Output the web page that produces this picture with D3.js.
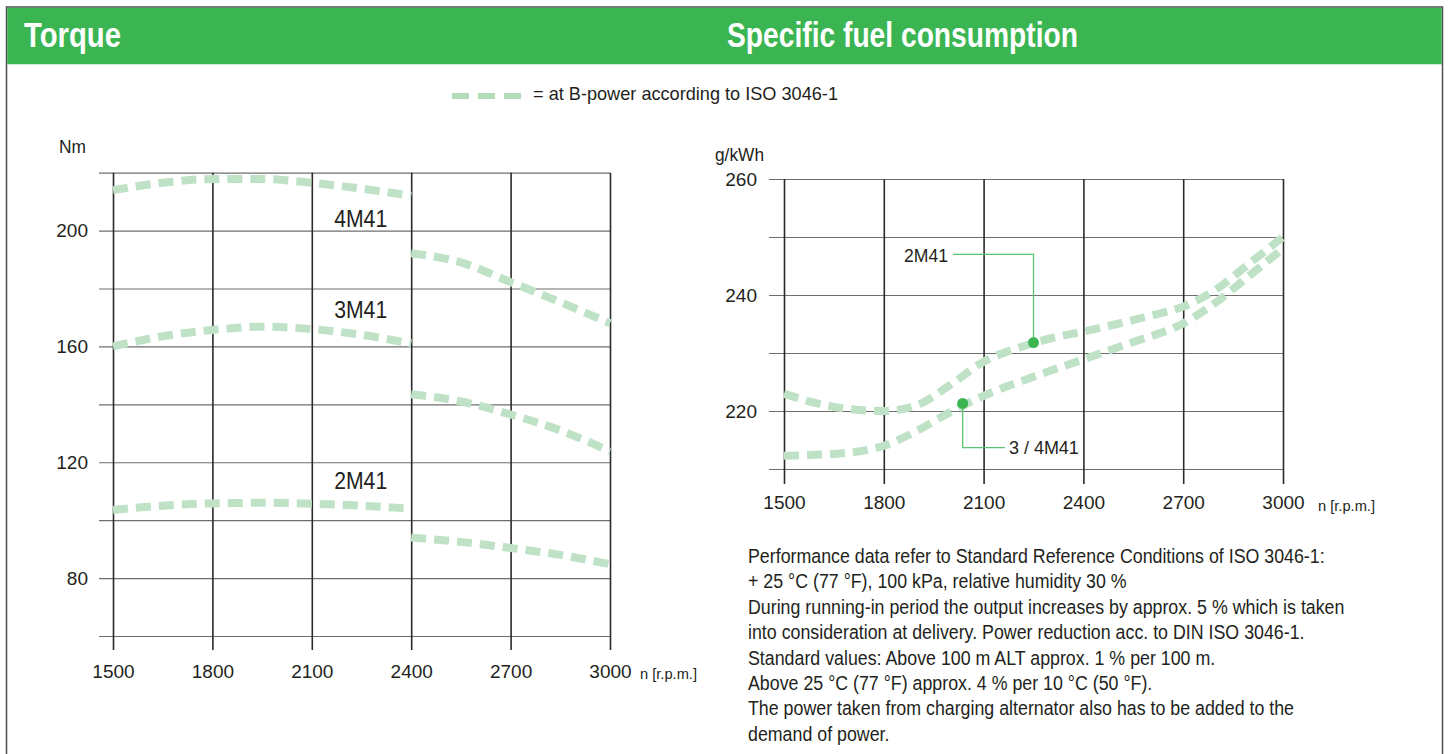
<!DOCTYPE html>
<html>
<head>
<meta charset="utf-8">
<script src="https://cdn.jsdelivr.net/npm/d3@7"></script>
<style>
    body { margin: 0; background: #fff; }
</style>
</head>
<body>
<svg id="chart"></svg>
<script>
// ---- data ----
const rpmTicks = [1500, 1800, 2100, 2400, 2700, 3000];
const torqueGrid = [60, 80, 100, 120, 140, 160, 180, 200, 220];
const torqueLabels = [80, 120, 160, 200];
const fuelGrid = [210, 220, 230, 240, 250, 260];
const fuelLabels = [220, 240, 260];

// torque [rpm, Nm], each engine drawn in two pieces (break at 2400)
const torque4M41Low = [[1500, 214], [1650, 216.5], [1800, 217.8], [1950, 217.8], [2100, 216.5], [2250, 214.5], [2400, 212]];
const torque4M41High = [[2400, 192.2], [2550, 189], [2700, 182.2], [2850, 175.3], [3000, 168]];
const torque3M41Low = [[1500, 160], [1650, 163.5], [1800, 165.7], [1950, 166.8], [2100, 166], [2250, 164], [2400, 161]];
const torque3M41High = [[2400, 143.5], [2550, 141], [2700, 136.5], [2850, 131], [3000, 123.8]];
const torque2M41Low = [[1500, 103.5], [1650, 105], [1800, 105.8], [1950, 106], [2100, 105.7], [2250, 105], [2400, 104]];
const torque2M41High = [[2400, 94], [2550, 92.5], [2700, 90.4], [2850, 88], [3000, 84.8]];
const torqueNames = ['4M41', '3M41', '2M41'];
const torqueNameAt = [201.1, 169.7, 110.7];

// specific fuel consumption [rpm, g/kWh]
const fuel2M41 = [[1500, 223], [1600, 221.3], [1700, 220.3], [1800, 220], [1900, 221], [2000, 224.5], [2100, 228.5],
    [2200, 230.8], [2300, 232.5], [2400, 233.7], [2500, 235], [2600, 236.4], [2700, 238], [2800, 241], [2900, 245.5], [3000, 250]];
const fuel34M41 = [[1500, 212.3], [1650, 212.6], [1800, 214], [1900, 216.6], [2000, 219.8], [2100, 222.6], [2250, 225.9],
    [2400, 228.9], [2550, 231.9], [2700, 235.1], [2800, 238.8], [2900, 243.4], [3000, 248]];
const fuel2M41Marker = [2250, 231.8];
const fuel34M41Marker = [2037, 221.3];

const noteLines = [
    'Performance data refer to Standard Reference Conditions of ISO 3046-1:',
    '+ 25 °C (77 °F), 100 kPa, relative humidity 30 %',
    'During running-in period the output increases by approx. 5 % which is taken',
    'into consideration at delivery. Power reduction acc. to DIN ISO 3046-1.',
    'Standard values: Above 100 m ALT approx. 1 % per 100 m.',
    'Above 25 °C (77 °F) approx. 4 % per 10 °C (50 °F).',
    'The power taken from charging alternator also has to be added to the',
    'demand of power.'
];

// ---- drawing ----
const FONT = '"Liberation Sans", Arial, sans-serif';
const GREEN = '#3ab552';
const CURVE = '#bfe2c7';
const TEXT = '#231f20';

const svg = d3.select('#chart')
    .attr('width', 1448)
    .attr('height', 754)
    .attr('font-family', FONT)
    .attr('fill', TEXT);

// frame and header band
svg.append('rect')
    .attr('x', 6.5).attr('y', 7).attr('width', 1436).attr('height', 780)
    .attr('fill', 'none').attr('stroke', '#4d4d4d').attr('stroke-width', 1.5);
svg.append('rect')
    .attr('x', 7.25).attr('y', 7.75).attr('width', 1434.5).attr('height', 56.5)
    .attr('fill', GREEN);

svg.append('text')
    .attr('x', 24).attr('y', 47)
    .attr('font-size', 35).attr('font-weight', 'bold').attr('fill', '#fff')
    .attr('textLength', 97).attr('lengthAdjust', 'spacingAndGlyphs')
    .text('Torque');
svg.append('text')
    .attr('x', 727).attr('y', 47)
    .attr('font-size', 35).attr('font-weight', 'bold').attr('fill', '#fff')
    .attr('textLength', 351).attr('lengthAdjust', 'spacingAndGlyphs')
    .text('Specific fuel consumption');

// legend
svg.append('line')
    .attr('x1', 452).attr('x2', 521).attr('y1', 96).attr('y2', 96)
    .attr('stroke', '#b3ddb9').attr('stroke-width', 6).attr('stroke-dasharray', '17,9');
svg.append('text')
    .attr('x', 533).attr('y', 100).attr('font-size', 19)
    .attr('textLength', 305).attr('lengthAdjust', 'spacingAndGlyphs')
    .text('= at B-power according to ISO 3046-1');

function styleAxis(g, fontSize, lineColor, lineWidth) {
    g.attr('font-family', FONT).attr('font-size', fontSize);
    g.select('.domain').remove();
    g.selectAll('.tick line').attr('stroke', lineColor).attr('stroke-width', lineWidth);
    g.selectAll('.tick text').attr('fill', TEXT);
}

const line = (x, y) => d3.line()
    .x(d => x(d[0]))
    .y(d => y(d[1]))
    .curve(d3.curveMonotoneX);

// ---------- torque chart ----------
const tx = d3.scaleLinear().domain([1500, 3000]).range([113, 610]);
const ty = d3.scaleLinear().domain([60, 220]).range([636, 172.7]);

svg.append('g')
    .attr('transform', 'translate(99,0)')
    .call(d3.axisLeft(ty).tickValues(torqueGrid).tickSize(-(610 - 99)).tickPadding(11)
        .tickFormat(d => torqueLabels.includes(d) ? d : ''))
    .call(g => styleAxis(g, 19, '#6e6e6e', 1.2));

svg.append('g')
    .attr('transform', 'translate(0,650)')
    .call(d3.axisBottom(tx).tickValues(rpmTicks).tickSize(-(650 - 172.7)).tickPadding(15).tickFormat(d => d))
    .call(g => styleAxis(g, 19, '#2b2b2b', 1.6));

svg.append('text').attr('x', 59).attr('y', 153).attr('font-size', 19)
    .attr('textLength', 27).attr('lengthAdjust', 'spacingAndGlyphs').text('Nm');
svg.append('text').attr('x', 640).attr('y', 679).attr('font-size', 15)
    .attr('textLength', 57).attr('lengthAdjust', 'spacingAndGlyphs').text('n [r.p.m.]');

const torqueLine = line(tx, ty);
const torquePieces = [torque4M41Low, torque4M41High, torque3M41Low, torque3M41High, torque2M41Low, torque2M41High];
svg.append('g').selectAll('path')
    .data(torquePieces)
    .enter()
    .append('path')
    .attr('d', torqueLine)
    .attr('fill', 'none')
    .attr('stroke', CURVE)
    .attr('stroke-width', 8)
    .attr('stroke-dasharray', '15,8');

svg.append('g').selectAll('text')
    .data(torqueNames)
    .enter()
    .append('text')
    .attr('x', tx(2400) - 24)
    .attr('y', (d, i) => ty(torqueNameAt[i]))
    .attr('text-anchor', 'end')
    .attr('font-size', 23)
    .attr('textLength', 53).attr('lengthAdjust', 'spacingAndGlyphs')
    .text(d => d);

// ---------- fuel chart ----------
const fx = d3.scaleLinear().domain([1500, 3000]).range([784, 1283]);
const fy = d3.scaleLinear().domain([210, 260]).range([469, 179]);

svg.append('g')
    .attr('transform', 'translate(769,0)')
    .call(d3.axisLeft(fy).tickValues(fuelGrid).tickSize(-(1283 - 769)).tickPadding(12)
        .tickFormat(d => fuelLabels.includes(d) ? d : ''))
    .call(g => styleAxis(g, 19, '#6e6e6e', 1.2));

svg.append('g')
    .attr('transform', 'translate(0,484)')
    .call(d3.axisBottom(fx).tickValues(rpmTicks).tickSize(-(484 - 179)).tickPadding(12).tickFormat(d => d))
    .call(g => styleAxis(g, 19, '#2b2b2b', 1.6));

svg.append('text').attr('x', 715).attr('y', 161).attr('font-size', 18.5)
    .attr('textLength', 49).attr('lengthAdjust', 'spacingAndGlyphs').text('g/kWh');
svg.append('text').attr('x', 1318).attr('y', 511).attr('font-size', 15)
    .attr('textLength', 57).attr('lengthAdjust', 'spacingAndGlyphs').text('n [r.p.m.]');

const fuelLine = line(fx, fy);
svg.append('g').selectAll('path')
    .data([fuel2M41, fuel34M41])
    .enter()
    .append('path')
    .attr('d', fuelLine)
    .attr('fill', 'none')
    .attr('stroke', CURVE)
    .attr('stroke-width', 8)
    .attr('stroke-dasharray', '15,8');

// leader lines with markers
const leader = svg.append('g')
    .attr('fill', 'none').attr('stroke', '#5cc272').attr('stroke-width', 1.3);
leader.append('path')
    .attr('d', `M${fx(2008)},${fy(247)}H${fx(fuel2M41Marker[0])}V${fy(fuel2M41Marker[1])}`);
leader.append('path')
    .attr('d', `M${fx(fuel34M41Marker[0])},${fy(fuel34M41Marker[1])}V${fy(213.7)}H${fx(2164)}`);

svg.append('g').selectAll('circle')
    .data([fuel2M41Marker, fuel34M41Marker])
    .enter()
    .append('circle')
    .attr('cx', d => fx(d[0]))
    .attr('cy', d => fy(d[1]))
    .attr('r', 5.5)
    .attr('fill', GREEN);

svg.append('text')
    .attr('x', fx(2008) - 5).attr('y', fy(247) + 7.5)
    .attr('text-anchor', 'end').attr('font-size', 18.5)
    .attr('textLength', 44).attr('lengthAdjust', 'spacingAndGlyphs')
    .text('2M41');
svg.append('text')
    .attr('x', fx(2164) + 4).attr('y', fy(213.7) + 6.5)
    .attr('font-size', 18.5)
    .attr('textLength', 70).attr('lengthAdjust', 'spacingAndGlyphs')
    .text('3 / 4M41');

// ---------- notes ----------
const notes = svg.append('g');
notes.selectAll('text')
    .data(noteLines)
    .enter()
    .append('text')
    .attr('x', 0)
    .attr('y', (d, i) => 563 + i * 25.4)
    .attr('font-size', 20.5)
    .text(d => d);
// the original face is a condensed one: squeeze to the measured width of the first line
const firstWidth = notes.select('text').node().getComputedTextLength();
notes.attr('transform', `translate(748,0) scale(${577 / firstWidth},1)`);
</script>
</body>
</html>
